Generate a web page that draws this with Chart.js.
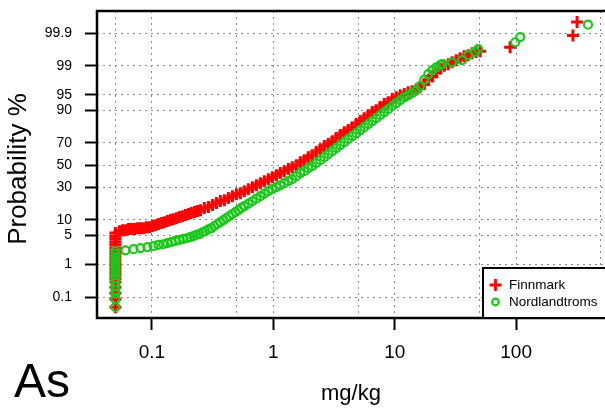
<!DOCTYPE html>
<html>
<head>
<meta charset="utf-8">
<script src="https://cdn.jsdelivr.net/npm/chart.js@4.4.1/dist/chart.umd.min.js"></script>
<style>
html,body{margin:0;padding:0;background:#fff;}
canvas{display:block;}
</style>
</head>
<body>
<canvas id="c" width="605" height="413"></canvas>
<script>
// ---- data ----
const finnmarkMgKg = [
  0.05,0.05,0.05,0.05,0.05,0.05,0.05,0.05,0.05,0.05,0.05,0.05,0.05,0.05,0.05,0.05,0.05,0.05,0.05,0.05,0.05,
  0.054,0.0572,0.0605,0.0641,0.0678,0.0718,0.076,0.0804,0.0851,0.0901,0.0953,0.101,0.107,0.113,0.120,0.127,0.134,0.142,0.150,0.159,0.168,0.178,0.189,0.200,0.211,0.224,0.237,0.251,
  0.270,0.292,0.315,0.340,0.366,0.395,0.426,0.460,0.496,0.535,0.577,0.623,0.672,0.725,0.782,0.843,0.910,0.981,1.06,1.14,1.23,1.33,1.43,1.55,1.67,1.80,1.94,2.09,2.26,2.44,2.63,2.84,3.06,3.30,3.56,3.84,4.14,4.47,4.82,5.20,5.61,6.05,6.53,7.04,7.60,8.20,8.84,9.54,10.3,11.1,12.0,12.9,13.9,15.0,16.2,17.5,18.9,20.4,22.0,23.7,25.6,27.6,29.7,32.1,34.6,37.3,40.3,43.4,46.9,50.6,
  89.3,294,318
];
const finnmarkProb = [
  0.044,0.085,0.135,0.21,0.31,0.40,0.50,0.61,0.74,0.90,1.08,1.31,1.57,1.87,2.2,2.6,3.1,3.6,4.2,4.8,5.6,
  6.1,6.4,6.4,6.7,6.7,6.7,7.0,7.0,7.0,7.3,7.3,7.7,8.0,8.4,8.8,9.1,9.5,9.9,10.3,10.7,11.2,11.6,12.1,12.6,13.1,13.6,14.1,14.6,
  15.8,16.3,17.5,18.7,20.0,20.6,22.0,23.4,24.8,25.6,27.1,28.7,30.3,31.9,33.6,35.4,37.1,38.9,40.7,42.6,44.4,46.3,48.1,50.0,52.8,54.6,57.4,59.2,62.0,64.6,67.2,68.9,71.3,73.7,75.9,78.0,79.4,81.3,83.2,84.9,86.4,87.9,89.3,90.1,91.3,92.4,93.0,93.9,94.4,94.9,95.2,95.6,95.8,96.2,96.6,97.1,97.7,98.1,98.5,98.8,99.0,99.1,99.2,99.3,99.38,99.46,99.5,99.56,99.6,99.62,
  99.71,99.88,99.96
];
const nordMgKg = [
  0.05,0.05,0.05,0.05,0.05,0.05,0.05,0.05,0.05,0.05,0.05,0.05,0.05,0.05,0.05,0.05,
  0.0605,0.0705,0.0804,0.0918,0.103,0.113,0.124,0.134,0.145,0.156,0.168,0.182,0.196,0.207,0.220,0.232,0.246,0.261,0.276,0.292,0.309,0.327,0.346,0.366,0.388,0.410,0.435,0.460,0.487,0.515,0.545,0.577,0.623,0.672,0.725,0.782,0.843,0.910,0.981,
  1.06,1.14,1.23,1.33,1.43,1.55,1.67,1.80,1.94,2.09,2.26,2.44,2.63,2.84,3.06,3.30,3.56,3.84,4.14,4.47,4.82,5.20,5.61,6.05,6.53,7.04,7.60,8.20,8.84,9.54,10.3,11.1,12.0,12.9,13.9,15.0,16.2,17.5,18.9,20.4,22.0,23.7,
  24.6,29.7,35.9,40.3,46.0,48.7,98.2,108,391
];
const nordProb = [
  0.044,0.085,0.13,0.17,0.23,0.30,0.40,0.50,0.61,0.74,0.90,1.08,1.31,1.57,1.87,2.2,
  2.3,2.45,2.6,2.75,2.9,3.1,3.2,3.4,3.6,3.8,4.0,4.2,4.4,4.6,4.8,5.1,5.3,5.8,6.1,6.6,7.0,7.7,8.4,9.1,9.9,10.7,11.6,12.6,13.6,14.6,15.8,16.9,18.4,19.9,21.6,23.4,25.3,27.1,28.7,
  30.3,31.9,33.6,35.4,37.1,39.8,42.6,44.4,47.2,49.1,51.9,54.6,57.4,60.2,62.8,65.5,68.1,70.5,72.9,75.2,77.3,79.4,81.3,83.2,84.9,86.4,87.9,89.3,90.5,91.7,92.7,93.6,94.4,94.9,95.4,96.0,96.8,97.7,98.35,98.7,98.9,99.04,
  99.1,99.2,99.3,99.5,99.6,99.67,99.80,99.865,99.95
];
const probTicks = [0.1, 1, 5, 10, 30, 50, 70, 90, 95, 99, 99.9];
const probTickLabels = ['0.1', '1', '5', '10', '30', '50', '70', '90', '95', '99', '99.9'];
const xGridValues = [0.05, 0.1, 0.5, 1, 5, 10, 50, 100, 500];
const xTickLabels = {0.1: '0.1', 1: '1', 10: '10', 100: '100'};
const seriesNames = ['Finnmark', 'Nordlandtroms'];

// inverse standard normal CDF (Acklam) – probability-scale transform
function qnorm(p) {
  const a = [-39.69683028665376, 220.9460984245205, -275.9285104469687, 138.3577518672690, -30.66479806614716, 2.506628277459239];
  const b = [-54.47609879822406, 161.5858368580409, -155.6989798598866, 66.80131188771972, -13.28068155288572];
  const c = [-0.007784894002430293, -0.3223964580411365, -2.400758277161838, -2.549732539343734, 4.374664141464968, 2.938163982698783];
  const d = [0.007784695709041462, 0.3224671290700398, 2.445134137142996, 3.754408661907416];
  const pl = 0.02425, ph = 1 - pl;
  let q, r;
  if (p < pl) {
    q = Math.sqrt(-2 * Math.log(p));
    return (((((c[0]*q+c[1])*q+c[2])*q+c[3])*q+c[4])*q+c[5]) / ((((d[0]*q+d[1])*q+d[2])*q+d[3])*q+1);
  } else if (p <= ph) {
    q = p - 0.5; r = q*q;
    return (((((a[0]*r+a[1])*r+a[2])*r+a[3])*r+a[4])*r+a[5])*q / (((((b[0]*r+b[1])*r+b[2])*r+b[3])*r+b[4])*r+1);
  } else {
    q = Math.sqrt(-2 * Math.log(1 - p));
    return -(((((c[0]*q+c[1])*q+c[2])*q+c[3])*q+c[4])*q+c[5]) / ((((d[0]*q+d[1])*q+d[2])*q+d[3])*q+1);
  }
}
const toPoints = (xs, ps) => xs.map((x, i) => ({x: x, y: qnorm(ps[i] / 100)}));

const FONT = "'Liberation Sans', Arial, Helvetica, sans-serif";
const RED = '#ff0000';
const GREEN = '#19c819';

const zeroPad = s => { s.paddingLeft = 0; s.paddingRight = 0; s.paddingTop = 0; s.paddingBottom = 0; };

const decor = {
  id: 'decor',
  afterDraw(chart) {
    const {ctx, chartArea: a} = chart;
    ctx.save();
    // frame
    ctx.strokeStyle = '#000';
    ctx.lineWidth = 2.5;
    ctx.strokeRect(a.left, a.top, a.right - a.left + 4, a.bottom - a.top);
    // legend box
    const lx = 483, ly = 268;
    ctx.fillStyle = '#fff';
    ctx.fillRect(lx, ly, a.right - lx, a.bottom - ly);
    ctx.lineWidth = 2;
    ctx.strokeRect(lx, ly, a.right - lx + 4, a.bottom - ly);
    // legend markers
    ctx.strokeStyle = RED; ctx.lineWidth = 2.8;
    ctx.beginPath();
    ctx.moveTo(489.5, 285); ctx.lineTo(501.5, 285);
    ctx.moveTo(495.5, 279); ctx.lineTo(495.5, 291);
    ctx.stroke();
    ctx.strokeStyle = GREEN; ctx.lineWidth = 2.2;
    ctx.beginPath(); ctx.arc(495.5, 302, 3.3, 0, Math.PI * 2); ctx.stroke();
    ctx.fillStyle = '#000';
    ctx.font = '13.5px ' + FONT;
    ctx.textAlign = 'left'; ctx.textBaseline = 'middle';
    ctx.fillText(seriesNames[0], 509, 285);
    ctx.fillText(seriesNames[1], 509, 302.5);
    // axis titles
    ctx.font = '22px ' + FONT;
    ctx.textAlign = 'center'; ctx.textBaseline = 'alphabetic';
    ctx.fillText('mg/kg', 351, 400);
    ctx.save();
    ctx.translate(19, 169);
    ctx.rotate(-Math.PI / 2);
    ctx.font = '26px ' + FONT;
    ctx.textBaseline = 'middle';
    ctx.fillText('Probability %', 0, 0);
    ctx.restore();
    // element label
    ctx.font = '48px ' + FONT;
    ctx.textAlign = 'left'; ctx.textBaseline = 'alphabetic';
    ctx.fillText('As', 14, 397);
    ctx.restore();
  }
};

new Chart(document.getElementById('c'), {
  type: 'scatter',
  data: {
    datasets: [
      {
        label: seriesNames[0],
        data: toPoints(finnmarkMgKg, finnmarkProb),
        pointStyle: 'cross',
        pointRadius: 6,
        borderColor: RED,
        backgroundColor: RED,
        borderWidth: 3,
        order: 2
      },
      {
        label: seriesNames[1],
        data: toPoints(nordMgKg, nordProb),
        pointStyle: 'circle',
        pointRadius: 4,
        borderColor: GREEN,
        backgroundColor: 'rgba(0,0,0,0)',
        borderWidth: 2.2,
        order: 1
      }
    ]
  },
  options: {
    responsive: false,
    animation: false,
    devicePixelRatio: 1,
    layout: {autoPadding: false, padding: {top: 11, left: 0, right: 0, bottom: 0}},
    plugins: {legend: {display: false}, tooltip: {enabled: false}},
    scales: {
      x: {
        type: 'logarithmic',
        min: 0.03526,
        max: 540,
        afterFit: s => { s.height = 95; zeroPad(s); },
        afterBuildTicks: s => { s.ticks = xGridValues.map(v => ({value: v})); },
        border: {display: false, dash: [2, 4]},
        grid: {
          color: '#8a8a8a',
          lineWidth: 1,
          tickLength: 12,
          tickWidth: 2,
          tickColor: ctx => (ctx.tick && xTickLabels[ctx.tick.value] !== undefined) ? '#000' : 'rgba(0,0,0,0)'
        },
        ticks: {
          autoSkip: false,
          maxRotation: 0,
          padding: 11,
          color: '#000',
          font: {family: FONT, size: 19},
          callback: v => (xTickLabels[v] !== undefined ? xTickLabels[v] : '')
        }
      },
      y: {
        type: 'linear',
        min: -3.58,
        max: 3.61,
        afterFit: s => { s.width = 97; zeroPad(s); },
        afterBuildTicks: s => { s.ticks = probTicks.map(p => ({value: qnorm(p / 100)})); },
        border: {display: false, dash: [2, 4]},
        grid: {
          color: '#8a8a8a',
          lineWidth: 1,
          tickLength: 12,
          tickWidth: 2,
          tickColor: '#000'
        },
        ticks: {
          autoSkip: false,
          padding: 13,
          color: '#000',
          font: {family: FONT, size: 14},
          callback: (v, i) => probTickLabels[i]
        }
      }
    }
  },
  plugins: [decor]
});
</script>
</body>
</html>
